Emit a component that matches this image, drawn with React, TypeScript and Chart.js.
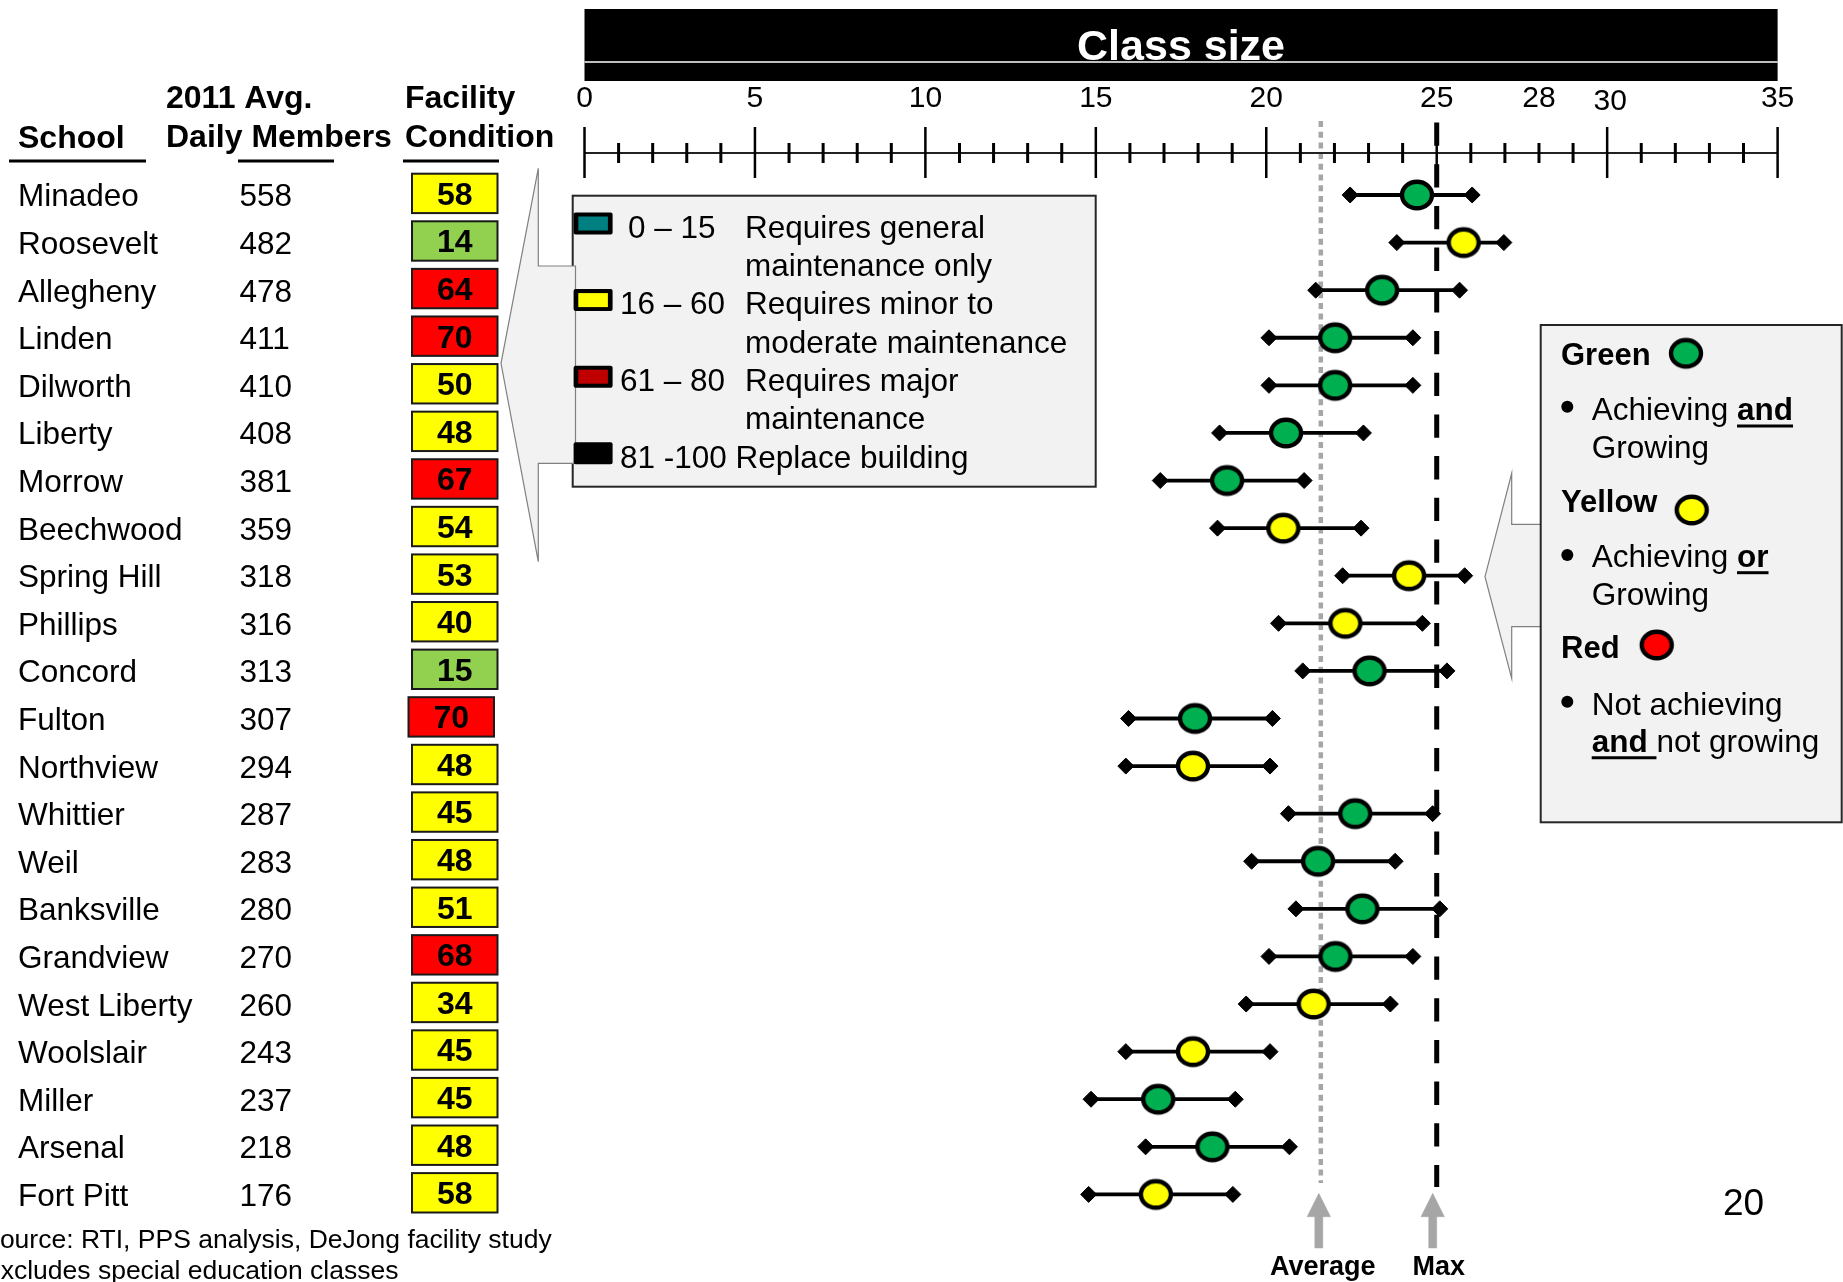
import { useEffect, useRef } from 'react';
import { Chart, registerables } from 'chart.js';

Chart.register(...registerables);

// ---- data ----
const schools = [
  'Minadeo', 'Roosevelt', 'Allegheny', 'Linden', 'Dilworth', 'Liberty', 'Morrow',
  'Beechwood', 'Spring Hill', 'Phillips', 'Concord', 'Fulton', 'Northview', 'Whittier',
  'Weil', 'Banksville', 'Grandview', 'West Liberty', 'Woolslair', 'Miller', 'Arsenal', 'Fort Pitt',
];
const dailyMembers = [558, 482, 478, 411, 410, 408, 381, 359, 318, 316, 313, 307, 294, 287, 283, 280, 270, 260, 243, 237, 218, 176];
const facilityScores = [58, 14, 64, 70, 50, 48, 67, 54, 53, 40, 15, 70, 48, 45, 48, 51, 68, 34, 45, 45, 48, 58];
const performance = [
  'green', 'yellow', 'green', 'green', 'green', 'green', 'green', 'yellow', 'yellow', 'yellow', 'green',
  'green', 'yellow', 'green', 'green', 'green', 'green', 'yellow', 'yellow', 'green', 'green', 'yellow',
];
const classSizeLow = [22.46, 23.83, 21.45, 20.08, 20.08, 18.63, 16.89, 18.57, 22.24, 20.36, 21.07, 15.96, 15.88, 20.65, 19.57, 20.87, 20.08, 19.41, 15.88, 14.86, 16.46, 14.79];
const classSizeAvg = [24.42, 25.79, 23.4, 22.02, 22.02, 20.58, 18.85, 20.5, 24.19, 22.32, 23.03, 17.91, 17.85, 22.61, 21.52, 22.82, 22.03, 21.39, 17.85, 16.83, 18.42, 16.76];
const classSizeHigh = [26.04, 26.97, 25.67, 24.3, 24.3, 22.85, 21.11, 22.78, 25.82, 24.58, 25.3, 20.18, 20.11, 24.88, 23.78, 25.09, 24.3, 23.64, 20.11, 19.09, 20.68, 19.02];
const averageClassSize = 21.6;
const maxClassSize = 25;
const axisLabels = [0, 5, 10, 15, 20, 25, 28, 30, 35];
const axisMax = 35;

const facilityRanges = ['0 – 15', '16 – 60', '61 – 80'];
const facilityDescriptions = [
  ['Requires general', 'maintenance only'],
  ['Requires minor to', 'moderate maintenance'],
  ['Requires major', 'maintenance'],
];
const replaceLine = '81 -100 Replace building';

// ---- styles ----
const FONT = '"Liberation Sans", Arial, Helvetica, sans-serif';
const DOT_COLORS: Record<string, string> = { green: '#00b050', yellow: '#ffff00', red: '#ff0000' };
const SWATCH_COLORS = ['#008080', '#ffff00', '#c00000', '#000000'];
const boxNudge: Record<string, number> = { Fulton: -3.5 };

function facilityColor(v: number) {
  if (v <= 15) return '#92d050';
  if (v <= 60) return '#ffff00';
  return '#ff0000';
}

function ellipseSprite(fill: string) {
  const c = document.createElement('canvas');
  c.width = 38;
  c.height = 34;
  const g = c.getContext('2d')!;
  g.beginPath();
  g.ellipse(19, 17, 15, 13.3, 0, 0, Math.PI * 2);
  g.fillStyle = fill;
  g.fill();
  g.lineWidth = 4.4;
  g.strokeStyle = '#000';
  g.stroke();
  return c;
}

function text(
  ctx: CanvasRenderingContext2D, s: string, x: number, y: number, size: number,
  opts: { bold?: boolean; align?: CanvasTextAlign; color?: string } = {},
) {
  ctx.font = `${opts.bold ? 'bold ' : ''}${size}px ${FONT}`;
  ctx.textAlign = opts.align || 'left';
  ctx.textBaseline = 'alphabetic';
  ctx.fillStyle = opts.color || '#000';
  ctx.fillText(s, x, y);
  return ctx.measureText(s).width;
}

function hline(ctx: CanvasRenderingContext2D, x1: number, x2: number, y: number, w: number, color = '#000') {
  ctx.beginPath();
  ctx.moveTo(x1, y);
  ctx.lineTo(x2, y);
  ctx.lineWidth = w;
  ctx.strokeStyle = color;
  ctx.stroke();
}

function vline(ctx: CanvasRenderingContext2D, x: number, y1: number, y2: number, w: number, color = '#000') {
  ctx.beginPath();
  ctx.moveTo(x, y1);
  ctx.lineTo(x, y2);
  ctx.lineWidth = w;
  ctx.strokeStyle = color;
  ctx.stroke();
}

function polygon(ctx: CanvasRenderingContext2D, pts: number[][], fill: string, stroke: string, lw: number) {
  ctx.beginPath();
  pts.forEach(([x, y], i) => (i ? ctx.lineTo(x, y) : ctx.moveTo(x, y)));
  ctx.closePath();
  ctx.fillStyle = fill;
  ctx.fill();
  ctx.lineWidth = lw;
  ctx.strokeStyle = stroke;
  ctx.lineJoin = 'miter';
  ctx.stroke();
}

const sprites: Record<string, HTMLCanvasElement> = {};
function sprite(name: string) {
  if (!sprites[name]) sprites[name] = ellipseSprite(DOT_COLORS[name]);
  return sprites[name];
}

// reference lines (average / max) drawn behind the ranges
const referencePlugin = {
  id: 'referenceLines',
  beforeDatasetsDraw(chart: any) {
    const ctx: CanvasRenderingContext2D = chart.ctx;
    const xs = chart.scales.x;
    const avgX = xs.getPixelForValue(averageClassSize);
    const maxX = xs.getPixelForValue(maxClassSize);
    ctx.save();
    ctx.lineCap = 'butt';
    ctx.setLineDash([6, 4.7]);
    vline(ctx, avgX, 121, 1183, 4.5, '#a6a6a6');
    ctx.setLineDash([23.3, 18.4]);
    vline(ctx, maxX, 122.5, 1187, 5, '#000');
    ctx.setLineDash([]);

    // pointer arrows + captions
    [avgX - 2, maxX - 4].forEach((cx) => {
      polygon(ctx, [
        [cx, 1193.3], [cx + 11.7, 1216.7], [cx + 4, 1216.7], [cx + 4, 1248],
        [cx - 4, 1248], [cx - 4, 1216.7], [cx - 11.7, 1216.7],
      ], '#a6a6a6', '#a6a6a6', 0.5);
    });
    text(ctx, 'Average', avgX + 2, 1275, 27, { bold: true, align: 'center' });
    text(ctx, 'Max', maxX + 2, 1275, 27, { bold: true, align: 'center' });
    ctx.restore();
  },
};

// banner, axis, school table and legends
const decorPlugin = {
  id: 'decor',
  afterDraw(chart: any) {
    const ctx: CanvasRenderingContext2D = chart.ctx;
    const xs = chart.scales.x;
    const ys = chart.scales.y;
    const x0 = xs.getPixelForValue(0);
    const x1 = xs.getPixelForValue(axisMax);
    ctx.save();

    // title banner
    ctx.fillStyle = '#000';
    ctx.fillRect(x0, 9, x1 - x0, 72);
    text(ctx, 'Class size', (x0 + x1) / 2, 60, 43, { bold: true, align: 'center', color: '#fff' });
    hline(ctx, x0, x1, 62, 1.5, '#fff');

    // top axis
    hline(ctx, x0, x1, 153, 2, '#222');
    for (let v = 0; v <= axisMax; v++) {
      const px = xs.getPixelForValue(v);
      if (v % 5 === 0) vline(ctx, px, 127, 178, 2.5);
      else vline(ctx, px, 143, 163, 3);
    }
    axisLabels.forEach((v) => {
      const dx = v === 30 ? 3 : 0;
      const dy = v === 30 ? 3.5 : 0;
      text(ctx, String(v), xs.getPixelForValue(v) + dx, 106.7 + dy, 30, { align: 'center' });
    });

    // table header
    text(ctx, 'School', 18, 147.5, 32, { bold: true });
    text(ctx, '2011 Avg.', 166, 108.3, 32, { bold: true });
    text(ctx, 'Daily Members', 166, 147.3, 32, { bold: true });
    text(ctx, 'Facility', 405, 108.3, 32, { bold: true });
    text(ctx, 'Condition', 405, 147.3, 32, { bold: true });
    hline(ctx, 9, 146, 161, 3);
    hline(ctx, 238, 334, 161, 3);
    hline(ctx, 403, 499, 161, 3);

    // table rows
    schools.forEach((name, i) => {
      const cy = ys.getPixelForValue(i);
      text(ctx, name, 18, cy + 11.5, 31.5);
      text(ctx, String(dailyMembers[i]), 239.5, cy + 11.5, 31.5);
      const bx = 412 + (boxNudge[name] || 0);
      const by = cy - 21.3;
      ctx.fillStyle = facilityColor(facilityScores[i]);
      ctx.fillRect(bx, by, 85.5, 39.4);
      ctx.lineWidth = 2;
      ctx.strokeStyle = '#1a1a1a';
      ctx.strokeRect(bx, by, 85.5, 39.4);
      text(ctx, String(facilityScores[i]), bx + 42.75, cy + 9.8, 32, { bold: true, align: 'center' });
    });

    // facility legend box
    const lx = 572.7, ly = 195.7, lw = 523, lh = 291;
    ctx.fillStyle = '#f2f2f2';
    ctx.fillRect(lx, ly, lw, lh);
    ctx.lineWidth = 2;
    ctx.strokeStyle = '#262626';
    ctx.strokeRect(lx, ly, lw, lh);
    polygon(ctx, [
      [538.3, 168.3], [538.3, 266], [575.5, 266], [575.5, 463.3],
      [538.3, 463.3], [538.3, 561.7], [501, 363.3],
    ], '#f2f2f2', '#808080', 1.2);

    const lineY = (k: number) => 226.5 + 38.3 * k;
    for (let k = 0; k < 4; k++) {
      const cy = lineY(k * 2) - 3;
      ctx.fillStyle = '#000';
      ctx.beginPath();
      ctx.roundRect(573.6, cy - 11, 39, 22, 2);
      ctx.fill();
      if (k < 3) {
        ctx.fillStyle = SWATCH_COLORS[k];
        ctx.fillRect(578.3, cy - 7, 29.6, 14);
      }
    }
    facilityRanges.forEach((r, k) => {
      text(ctx, r, k === 0 ? 628 : 620, lineY(k * 2) + 11.3, 31.5);
      facilityDescriptions[k].forEach((d, j) => text(ctx, d, 745, lineY(k * 2 + j) + 11.3, 31.5));
    });
    text(ctx, replaceLine, 620, lineY(6) + 11.3, 31.5);

    // performance legend
    polygon(ctx, [
      [1511.7, 473.3], [1511.7, 524.3], [1541, 524.3], [1541, 626.7],
      [1511.7, 626.7], [1511.7, 678.3], [1485, 576.7],
    ], '#f2f2f2', '#808080', 1.2);
    const rx = 1540.7, ry = 325, rw = 301, rh = 497.3;
    ctx.fillStyle = '#f2f2f2';
    ctx.fillRect(rx, ry, rw, rh);
    ctx.lineWidth = 2;
    ctx.strokeStyle = '#262626';
    ctx.strokeRect(rx, ry, rw, rh);

    const dot = (name: string, cx: number, cy: number) => {
      const s = sprite(name);
      ctx.drawImage(s, cx - s.width / 2, cy - s.height / 2);
    };
    const bullet = (cy: number) => {
      ctx.beginPath();
      ctx.arc(1567.3, cy, 6, 0, Math.PI * 2);
      ctx.fillStyle = '#000';
      ctx.fill();
    };
    const tx = 1591.7;

    text(ctx, 'Green', 1561, 365, 31, { bold: true });
    dot('green', 1686, 353.3);
    bullet(406.7);
    let w = text(ctx, 'Achieving ', tx, 420, 31.5);
    let w2 = text(ctx, 'and', tx + w, 420, 31.5, { bold: true });
    hline(ctx, tx + w, tx + w + w2, 426, 3);
    text(ctx, 'Growing', tx, 458.3, 31.5);

    text(ctx, 'Yellow', 1561, 511.7, 31, { bold: true });
    dot('yellow', 1691.7, 510);
    bullet(555);
    w = text(ctx, 'Achieving ', tx, 566.7, 31.5);
    w2 = text(ctx, 'or', tx + w, 566.7, 31.5, { bold: true });
    hline(ctx, tx + w, tx + w + w2, 572.7, 3);
    text(ctx, 'Growing', tx, 605, 31.5);

    text(ctx, 'Red', 1561, 658.3, 31, { bold: true });
    dot('red', 1656.7, 645);
    bullet(701.7);
    text(ctx, 'Not achieving', tx, 715, 31.5);
    w = text(ctx, 'and ', tx, 751.7, 31.5, { bold: true });
    hline(ctx, tx, tx + w, 757.7, 3);
    text(ctx, 'not growing', tx + w, 751.7, 31.5);

    // page number and notes
    text(ctx, '20', 1723, 1215, 37);
    text(ctx, 'Source: RTI, PPS analysis, DeJong facility study', -17.8, 1248, 26.5);
    text(ctx, 'Excludes special education classes', -17, 1279, 26.5);

    ctx.restore();
  },
};

export default function App() {
  const ref = useRef<HTMLCanvasElement | null>(null);

  useEffect(() => {
    if (!ref.current) return;

    const rangeSets = schools.map((_, i) => ({
      data: [
        { x: classSizeLow[i], y: i },
        { x: classSizeHigh[i], y: i },
      ],
      showLine: true,
      borderColor: '#000',
      borderWidth: 3.8,
      pointStyle: 'rectRot' as const,
      pointRadius: 8,
      pointBackgroundColor: '#000',
      pointBorderColor: '#000',
      pointBorderWidth: 1,
      clip: false as const,
      order: 2,
    }));

    const averageSet = {
      data: schools.map((_, i) => ({ x: classSizeAvg[i], y: i })),
      showLine: false,
      pointStyle: performance.map((p) => sprite(p)),
      pointRadius: 17,
      clip: false as const,
      order: 1,
    };

    const chart = new Chart(ref.current, {
      type: 'scatter',
      data: { datasets: [averageSet as any, ...rangeSets] },
      options: {
        responsive: false,
        animation: false,
        events: [],
        layout: { padding: { left: 584.5, right: 65.4, top: 171.2, bottom: 63.8 } },
        scales: {
          x: { type: 'linear', min: 0, max: axisMax, display: false },
          y: { type: 'linear', min: -0.5, max: schools.length - 0.5, reverse: true, display: false },
        },
        plugins: {
          legend: { display: false },
          tooltip: { enabled: false },
        },
      },
      plugins: [referencePlugin, decorPlugin],
    });

    return () => chart.destroy();
  }, []);

  return (
    <div style={{ position: 'absolute', left: 0, top: 0, width: 1843, height: 1282, background: '#fff', overflow: 'hidden' }}>
      <canvas ref={ref} width={1843} height={1282} style={{ width: 1843, height: 1282, display: 'block' }} />
    </div>
  );
}
